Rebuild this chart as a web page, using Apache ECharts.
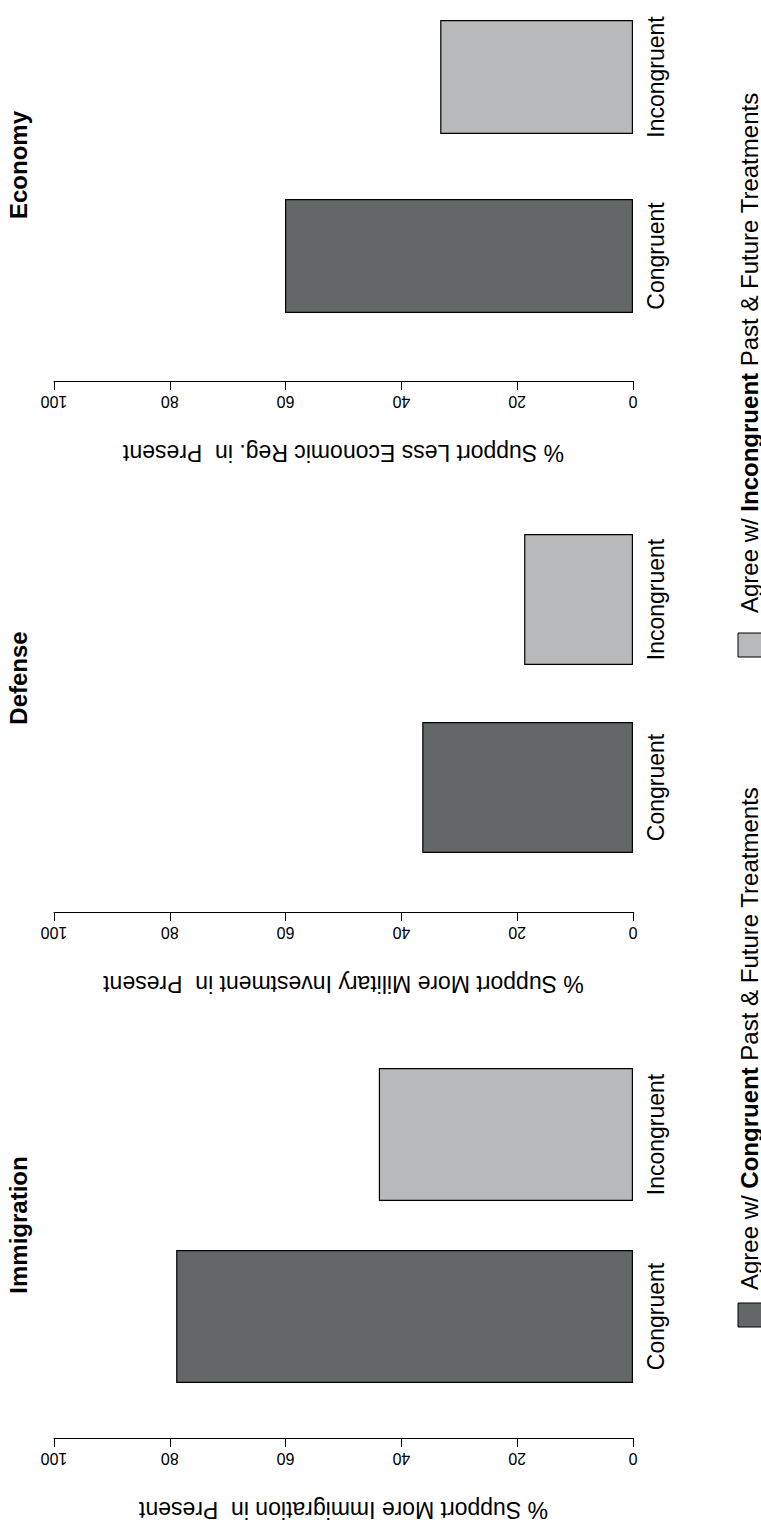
<!DOCTYPE html>
<html>
<head>
<meta charset="utf-8">
<script src="https://cdn.jsdelivr.net/npm/echarts@6/dist/echarts.min.js"></script>
<style>
  html, body { margin: 0; padding: 0; background: #ffffff; }
  #chart { width: 761px; height: 1522px; }
</style>
</head>
<body>
<div id="chart"></div>
<script>
// Survey results: share supporting each policy, by treatment group
const categories = ['Congruent', 'Incongruent'];
const panelTitles = ['Economy', 'Defense', 'Immigration'];
const axisTitles = [
  '% Support Less Economic Reg. in  Present',
  '% Support More Military Investment in  Present',
  '% Support More Immigration in  Present'
];
const economyValues = [60.1, 33.3];
const defenseValues = [36.4, 18.8];
const immigrationValues = [78.9, 43.9];
const valueTicks = [0, 20, 40, 60, 80, 100];
const legendNames = ['Congruent', 'Incongruent'];

const panelValues = [economyValues, defenseValues, immigrationValues];
const barColors = ['#646767', '#b8b9bb'];
const FONT = '"Liberation Sans", Arial, Helvetica, sans-serif';

// Panel geometry (page is drawn sideways: bars grow leftwards from 0)
const layout = [
  { top: 77,    height: 179, axisY: 381,  barWidth: 114, titleY: 165 },
  { top: 599.5, height: 188, axisY: 912,  barWidth: 131, titleY: 678 },
  { top: 1134.5, height: 185, axisY: 1441, barWidth: 133, titleY: 1225 }
];
const plotLeft = 54, plotRight = 633;

const grids = [], xAxes = [], yAxes = [], series = [], graphics = [];

layout.forEach((p, i) => {
  grids.push({
    left: plotLeft,
    width: plotRight - plotLeft,
    top: p.top,
    height: p.height,
    containLabel: false
  });
  xAxes.push({
    gridIndex: i,
    type: 'value',
    inverse: true,
    min: valueTicks[0],
    max: valueTicks[valueTicks.length - 1],
    interval: valueTicks[1] - valueTicks[0],
    position: 'bottom',
    offset: p.axisY - (p.top + p.height),
    axisLine: { show: true, onZero: false, lineStyle: { color: '#000', width: 1 } },
    axisTick: { show: true, length: 9, lineStyle: { color: '#000', width: 1 } },
    axisLabel: { rotate: 180, fontSize: 16, margin: 12, color: '#000', fontFamily: FONT },
    splitLine: { show: false },
    name: axisTitles[i],
    nameLocation: 'middle',
    nameRotate: 180,
    nameGap: 60,
    nameTextStyle: { fontSize: 23, color: '#000', fontFamily: FONT }
  });
  yAxes.push({
    gridIndex: i,
    type: 'category',
    data: categories,
    boundaryGap: false,
    position: 'right',
    axisLine: { show: false, onZero: false },
    axisTick: { show: false },
    axisLabel: { rotate: 90, fontSize: 23, margin: 11, color: '#000', fontFamily: FONT, interval: 0 },
    splitLine: { show: false }
  });
  series.push({
    type: 'bar',
    xAxisIndex: i,
    yAxisIndex: i,
    barWidth: p.barWidth,
    clip: false,
    silent: true,
    data: panelValues[i].map((v, k) => ({
      value: v,
      itemStyle: { color: barColors[k], borderColor: '#000', borderWidth: 1.2 }
    }))
  });
  graphics.push({
    type: 'text',
    x: 18,
    y: p.titleY,
    rotation: Math.PI / 2,
    style: {
      text: panelTitles[i],
      fontSize: 24,
      fontWeight: 'bold',
      fontFamily: FONT,
      fill: '#000',
      align: 'center',
      verticalAlign: 'middle'
    }
  });
});

// Legend: a swatch and a sideways caption for each treatment group
const legendItems = [
  { swatchY: 1303, textY: 1290 },
  { swatchY: 633, textY: 613 }
];
legendItems.forEach((it, k) => {
  graphics.push({
    type: 'rect',
    shape: { x: 738, y: it.swatchY, width: 24, height: 24 },
    style: { fill: barColors[k], stroke: '#000', lineWidth: 1 }
  });
  graphics.push({
    type: 'text',
    x: 749,
    y: it.textY,
    rotation: Math.PI / 2,
    style: {
      text: 'Agree w/ {b|' + legendNames[k] + '} Past & Future Treatments',
      fontSize: 24,
      fontFamily: FONT,
      fill: '#000',
      align: 'left',
      verticalAlign: 'middle',
      rich: { b: { fontSize: 24, fontWeight: 'bold', fontFamily: FONT, fill: '#000' } }
    }
  });
});

const chart = echarts.init(document.getElementById('chart'), null, { renderer: 'svg' });
chart.setOption({
  animation: false,
  backgroundColor: '#ffffff',
  grid: grids,
  xAxis: xAxes,
  yAxis: yAxes,
  series: series,
  graphic: graphics
});
</script>
</body>
</html>
